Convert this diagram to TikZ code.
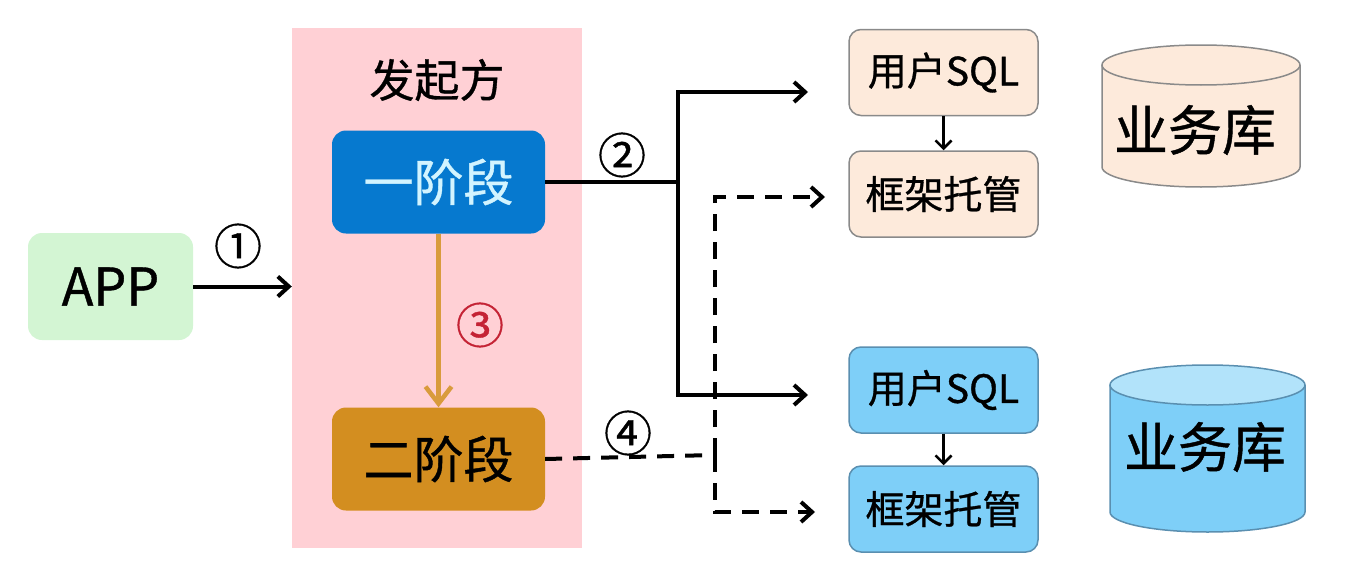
\documentclass[tikz,border=0pt]{standalone}
\usepackage{fontspec}
\setmainfont{Noto Sans CJK SC}[FakeBold=0.8]
\usetikzlibrary{arrows.meta}
\definecolor{pinkbg}{HTML}{FFD0D5}
\definecolor{stageblue}{HTML}{0679CF}
\definecolor{stagetext}{HTML}{D2F4FF}
\definecolor{stageorange}{HTML}{D38E20}
\definecolor{arroworange}{HTML}{D99B3C}
\definecolor{markred}{HTML}{C42234}
\definecolor{appgreen}{HTML}{D3F5D3}
\definecolor{peach}{HTML}{FDEADB}
\definecolor{skyblue}{HTML}{7ECFF8}
\definecolor{skytop}{HTML}{B2E3FA}
\definecolor{boxgray}{HTML}{8A8A8A}
\definecolor{bluegray}{HTML}{5A8FB0}
\newcommand{\fsz}[1]{\fontsize{#1}{#1}\selectfont}
\tikzset{
	stagebox/.style={rounded corners=14pt, minimum width=213pt, minimum height=103pt, inner sep=0pt, font=\fsz{50}},
	svcbox/.style={rounded corners=12pt, draw=boxgray, line width=1.5pt, minimum width=189pt, minimum height=86pt, inner sep=0pt, font=\fsz{39}},
	stepmark/.style={font=\fsz{48}, inner sep=0pt},
	flow/.style={line width=4pt, -{Straight Barb[length=11pt,width=20pt,line width=4pt]}},
	dline/.style={line width=4pt, dash pattern=on 17pt off 11pt},
	dflow/.style={flow, dline},
	short/.style={line width=2.5pt, -{Straight Barb[length=8pt,width=16pt,line width=2.5pt]}}
}
\begin{document}
\begin{tikzpicture}[x=1pt, y=-1pt]
	\useasboundingbox (0,0) rectangle (1360,570);
	% initiator
	\node (init) at (437,288)	[fill = pinkbg, minimum width=290pt, minimum height=520pt]	{};
	\node (initlbl) at (437,80)	[font=\fsz{45}]	{发起方};
	\node (stage1) at (438.5,182)	[stagebox, fill = stageblue, text = stagetext]	{一阶段};
	\node (stage2) at (438.5,459)	[stagebox, fill = stageorange]	{二阶段};
	\node (app) at (110.5,286.5)	[stagebox, fill = appgreen, minimum width=165pt, minimum height=107pt, font=\fsz{52}]	{APP};
	% services
	\node (sqlA) at (943.5,72.5)	[svcbox, fill = peach]	{用户SQL};
	\node (hostA) at (943.5,194)	[svcbox, fill = peach]	{框架托管};
	\node (sqlB) at (943.5,390)	[svcbox, fill = skyblue, draw = bluegray]	{用户SQL};
	\node (hostB) at (943.5,509)	[svcbox, fill = skyblue, draw = bluegray]	{框架托管};
	% databases
	\filldraw[fill = peach, draw = boxgray, line width=1.5pt] (1102,65) -- (1102,167) arc[start angle=180, end angle=0, x radius=99, y radius=20] -- (1300,65);
	\filldraw[fill = peach, draw = boxgray, line width=1.5pt] (1201,65) ellipse[x radius=99, y radius=20];
	\filldraw[fill = skyblue, draw = bluegray, line width=1.5pt] (1110,385) -- (1110,512) arc[start angle=180, end angle=0, x radius=97.5, y radius=20] -- (1305,385);
	\filldraw[fill = skytop, draw = bluegray, line width=1.5pt] (1207.5,385) ellipse[x radius=97.5, y radius=20];
	\node (dbA) at (1195,130)	[font=\fsz{54}]	{业务库};
	\node (dbB) at (1205,447)	[font=\fsz{54}]	{业务库};
	% connectors
	\coordinate (split) at (678,182);
	\coordinate (endA) at (808,92);
	\coordinate (endB) at (808,395);
	\coordinate (fork) at (715,455);
	\coordinate (endC) at (825,197);
	\coordinate (endD) at (815,512);
	\draw[flow] (app.east) -- (app.east -| init.west);
	\draw[draw = arroworange, line width=4.5pt, -{Straight Barb[length=17pt,width=26pt,line width=4.5pt]}] (stage1.south) -- (stage2.north);
	\draw[line width=4pt] (stage1.east) -- (split);
	\draw[flow] (split) |- (endA);
	\draw[flow] (split) |- (endB);
	\draw[dline] (stage2.east) -- (fork);
	\draw[dflow] (fork) |- (endC);
	\draw[dflow] (fork) |- (endD);
	\draw[short] (sqlA.south) -- (hostA.north);
	\draw[short] (sqlB.south) -- (hostB.north);
	\node (m1) at (238,246)	[stepmark]	{①};
	\node (m2) at (622,155)	[stepmark]	{②};
	\node (m3) at (480,325)	[stepmark, text = markred]	{③};
	\node (m4) at (628,433)	[stepmark]	{④};
\end{tikzpicture}
\end{document}
